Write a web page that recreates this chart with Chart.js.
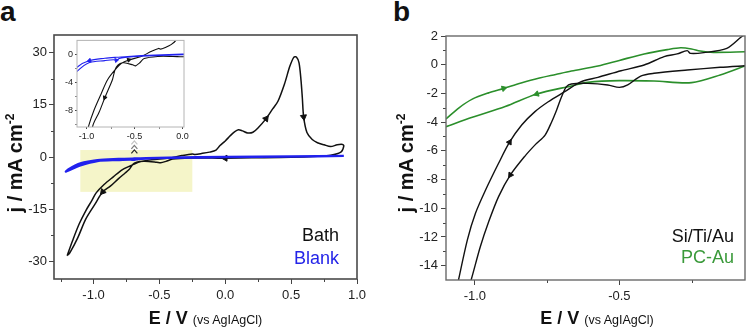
<!DOCTYPE html>
<html>
<head>
<meta charset="utf-8">
<title>Cyclic voltammetry</title>
<script src="https://cdn.jsdelivr.net/npm/chart.js"></script>
<style>
  body { margin: 0; width: 750px; height: 330px; position: relative; background: #fff; overflow: hidden;
         font-family: "Liberation Sans", Arial, sans-serif; color: #111; }
  canvas { position: absolute; }
  .panel { position: absolute; font-weight: bold; font-size: 28px; line-height: 28px; }
  .ytitle { position: absolute; width: 200px; height: 24px; line-height: 24px; text-align: center;
            transform: rotate(-90deg); font-weight: bold; font-size: 20px; white-space: nowrap; }
  .ytitle sup { font-size: 12px; line-height: 0; vertical-align: 8px; }
  .xtitle { position: absolute; top: 308px; height: 20px; line-height: 20px; text-align: center;
            font-weight: bold; font-size: 18px; white-space: nowrap; }
  .xtitle span { font-weight: normal; font-size: 12.5px; }
  .leg { position: absolute; font-size: 18px; line-height: 20px; text-align: right; white-space: nowrap; }
</style>
</head>
<body>
<div class="panel" style="left:0px; top:-2px;">a</div>
<div class="panel" style="left:393px; top:-2px;">b</div>

<canvas id="chartA" width="375" height="330" style="left:0; top:0;"></canvas>
<canvas id="chartInset" width="137" height="112" style="left:55px; top:33px;"></canvas>
<canvas id="chartB" width="375" height="330" style="left:375px; top:0;"></canvas>

<div class="ytitle" style="left:-85px; top:151px;">j / mA cm<sup>-2</sup></div>
<div class="ytitle" style="left:306px; top:151px;">j / mA cm<sup>-2</sup></div>
<div class="xtitle" style="left:54px; width:303px;">E / V <span>(vs AgIAgCl)</span></div>
<div class="xtitle" style="left:446px; width:302px;">E / V <span>(vs AgIAgCl)</span></div>

<div class="leg" style="right:411px; top:225px; color:#111;">Bath</div>
<div class="leg" style="right:411px; top:248px; color:#2424e8;">Blank</div>
<div class="leg" style="right:16px; top:226px; color:#111;">Si/Ti/Au</div>
<div class="leg" style="right:16px; top:247px; color:#3a9a3a;">PC-Au</div>

<script>
// ---- panel a: Bath (black), scan order starting at the cathodic vertex
const bathE = [-1.20, -1.16, -1.11, -1.06, -1.01, -0.98, -0.92, -0.85, -0.78, -0.69, -0.64, -0.56, -0.43, -0.33,
  -0.25, -0.23, -0.18, -0.12, -0.07, -0.04, 0.00, 0.035, 0.07, 0.10, 0.13, 0.17, 0.21, 0.25, 0.31, 0.36, 0.40,
  0.45, 0.49, 0.52, 0.54, 0.56, 0.575, 0.585, 0.595, 0.62, 0.66, 0.70, 0.75, 0.80, 0.85, 0.89, 0.90, 0.88, 0.80,
  0.70, 0.50, 0.20, 0.00, -0.10, -0.26, -0.40, -0.45, -0.49, -0.52, -0.61, -0.65, -0.69, -0.71, -0.73, -0.76,
  -0.81, -0.87, -0.93, -0.99, -1.06, -1.12, -1.18, -1.20];
const bathJ = [-28.3, -24.1, -19.3, -15.5, -12.3, -10.3, -7.9, -5.7, -3.6, -2.0, -1.3, -0.8, -0.3, 0.4,
  0.85, 0.75, 1.0, 1.4, 2.0, 3.3, 4.6, 6.0, 7.2, 7.8, 7.5, 6.9, 7.1, 8.4, 11.0, 13.8, 16.0,
  21.0, 26.0, 28.6, 28.7, 27.0, 22.0, 17.0, 11.5, 7.0, 5.0, 4.1, 3.5, 3.0, 3.5, 3.6, 3.2, 1.5, 0.5,
  0.2, -0.1, -0.25, -0.35, -0.3, -0.3, -0.6, -1.25, -1.65, -1.5, -1.2, -1.3, -1.8, -2.5, -3.6, -4.6,
  -6.2, -8.3, -10.0, -13.6, -17.9, -23.2, -27.5, -28.3];

// ---- panel a: Blank (blue)
const blankE = [0.90, 0.50, 0.00, -0.43, -0.60, -0.69, -0.81, -0.97, -1.10, -1.19, -1.21, -1.10, -0.97, -0.81,
  -0.72, -0.69, -0.66, -0.60, -0.43, 0.00, 0.50, 0.90];
const blankJ = [0.35, 0.20, 0.05, -0.18, -0.35, -0.42, -0.56, -0.89, -1.84, -3.5, -4.2, -2.44, -1.17, -0.89,
  -0.78, -0.85, -0.6, -0.45, -0.28, -0.05, 0.12, 0.30];

// arrow markers: indices into the arrays above
const bathArrowsMain = [28, 38, 52, 67];
const bathArrowsInset = [11, 65];
const blankArrowsInset = [7, 15];

// highlighted zoom window and the chevrons above it (panel a)
const zoomBoxE = [-1.1, -0.25];
const zoomBoxJ = [-10, 2];
const chevronE = -0.69;
const chevronJ = [4.2, 2.9, 1.6];

// ---- panel b: Si/Ti/Au (black) and PC-Au (green), forward and reverse scans
const siFwdE = [-1.06, -1.026, -0.998, -0.963, -0.918, -0.88, -0.838, -0.792, -0.746, -0.689, -0.632, -0.574,
  -0.494, -0.414, -0.345, -0.30, -0.265, -0.254, -0.208, -0.128, -0.077, -0.06];
const siFwdJ = [-15.3, -12.2, -10.35, -8.73, -6.87, -5.4, -4.2, -3.27, -2.58, -1.88, -1.18, -0.88,
  -0.42, -0.02, 0.56, 0.75, 0.98, 0.79, 0.84, 1.14, 1.95, 2.2];
const siRevE = [-0.06, -0.151, -0.265, -0.38, -0.426, -0.471, -0.50, -0.54, -0.609, -0.666, -0.683, -0.70,
  -0.717, -0.734, -0.757, -0.79, -0.826, -0.877, -0.918, -0.952, -0.981, -1.013, -1.02];
const siRevJ = [-0.07, -0.18, -0.37, -0.6, -0.79, -1.41, -1.58, -1.41, -1.3, -1.34, -1.53, -2.23,
  -3.15, -3.97, -4.9, -5.55, -6.35, -7.68, -9.19, -10.93, -12.67, -15.0, -15.4];
const pcFwdE = [-1.10, -1.055, -1.009, -0.955, -0.90, -0.84, -0.78, -0.72, -0.666, -0.574, -0.50, -0.414,
  -0.334, -0.288, -0.25, -0.22, -0.174, -0.06];
const pcFwdJ = [-3.78, -3.0, -2.4, -1.98, -1.65, -1.28, -0.95, -0.68, -0.44, -0.09, 0.3, 0.75,
  1.05, 1.18, 1.1, 0.95, 0.86, 0.9];
const pcRevE = [-0.06, -0.151, -0.25, -0.38, -0.50, -0.609, -0.666, -0.786, -0.895, -1.009, -1.10];
const pcRevJ = [-0.05, -0.72, -1.25, -1.14, -1.11, -1.23, -1.48, -2.04, -2.92, -3.66, -4.32];

// axis ranges and ticks
const xRangeA = [-1.3, 1.0], yRangeA = [-35, 35];
const xTicksA = [-1.0, -0.5, 0.0, 0.5, 1.0], yTicksA = [-30, -15, 0, 15, 30];
const xMinorA = [-1.25, -0.75, -0.25, 0.25, 0.75], yMinorA = [-22.5, -7.5, 7.5, 22.5];
const xRangeIn = [-1.1, 0.015], yRangeIn = [-10.4, 2];
const xTicksIn = [-1.0, -0.5, 0.0], yTicksIn = [-8, -4, 0];
const xMinorIn = [-0.75, -0.25], yMinorIn = [-10, -6, -2];
const xRangeB = [-1.1, -0.065], yRangeB = [-15, 2];
const xTicksB = [-1.0, -0.5], yTicksB = [-14, -12, -10, -8, -6, -4, -2, 0, 2];
const xMinorB = [-0.75, -0.25], yMinorB = [1, -1, -3, -5, -7, -9, -11, -13];

Chart.defaults.font.family = '"Liberation Sans", Arial, sans-serif';
Chart.defaults.color = '#222';

const BLACK = '#111', BLUE = '#2121ee', GREEN = '#2b8f2b';

const pts = (xs, ys) => xs.map((x, i) => ({ x: x, y: ys[i] }));

function curve(xs, ys, color, width) {
  return { data: pts(xs, ys), showLine: true, borderColor: color, borderWidth: width,
           pointRadius: 0, tension: 0.3, fill: false };
}

// arrow heads sit on curve points; they point along the scan direction
function arrows(xs, ys, idx, color, r) {
  return {
    data: idx.map(i => ({ x: xs[i], y: ys[i] })),
    showLine: false, pointStyle: 'triangle', pointRadius: r,
    backgroundColor: color, borderColor: color, borderWidth: 1,
    rotation: ctx => {
      if (ctx.type !== 'data') return 0;
      const i = idx[ctx.dataIndex];
      const sx = ctx.chart.scales.x, sy = ctx.chart.scales.y;
      const dx = sx.getPixelForValue(xs[i + 1]) - sx.getPixelForValue(xs[i - 1]);
      const dy = sy.getPixelForValue(ys[i + 1]) - sy.getPixelForValue(ys[i - 1]);
      return Math.atan2(dy, dx) * 180 / Math.PI + 90;
    }
  };
}

function axis(range, ticks, fmt, size, font, tickLen, pad) {
  return {
    type: 'linear', min: range[0], max: range[1],
    afterBuildTicks: s => { s.ticks = ticks.map(v => ({ value: v })); },
    afterFit: s => { if (s.isHorizontal()) s.height = size; else s.width = size; },
    ticks: { callback: fmt, font: { size: font }, color: '#222', padding: pad, maxRotation: 0, autoSkip: false },
    grid: { display: true, drawOnChartArea: false, drawTicks: true, tickLength: tickLen, tickColor: '#444', tickWidth: 1 },
    border: { display: false }
  };
}

// frame, white inset background, highlight box, chevrons and minor ticks
const decor = {
  id: 'decor',
  beforeDraw(chart, args, o) {
    if (!o.fill) return;
    const a = chart.chartArea, ctx = chart.ctx;
    ctx.save();
    ctx.fillStyle = o.fill;
    ctx.fillRect(a.left, a.top, a.right - a.left, a.bottom - a.top);
    ctx.restore();
  },
  beforeDatasetsDraw(chart, args, o) {
    if (!o.box) return;
    const ctx = chart.ctx, x = chart.scales.x, y = chart.scales.y;
    const x0 = x.getPixelForValue(o.box.e[0]), x1 = x.getPixelForValue(o.box.e[1]);
    const y0 = y.getPixelForValue(o.box.j[1]), y1 = y.getPixelForValue(o.box.j[0]);
    ctx.save();
    ctx.fillStyle = o.box.color;
    ctx.fillRect(x0, y0, x1 - x0, y1 - y0);
    ctx.restore();
  },
  afterDatasetsDraw(chart, args, o) {
    const ctx = chart.ctx, a = chart.chartArea, x = chart.scales.x, y = chart.scales.y;
    ctx.save();
    if (o.chev) {
      const px = x.getPixelForValue(o.chev.e);
      o.chev.j.forEach((v, k) => {
        const py = y.getPixelForValue(v);
        ctx.strokeStyle = o.chev.colors[k];
        ctx.lineWidth = 1.2;
        ctx.beginPath();
        ctx.moveTo(px - 3, py + 2);
        ctx.lineTo(px, py - 1.5);
        ctx.lineTo(px + 3, py + 2);
        ctx.stroke();
      });
    }
    ctx.strokeStyle = o.tickColor;
    ctx.lineWidth = 1;
    (o.minorX || []).forEach(v => {
      const px = Math.round(x.getPixelForValue(v)) + 0.5;
      ctx.beginPath(); ctx.moveTo(px, a.bottom); ctx.lineTo(px, a.bottom + o.minorLen); ctx.stroke();
    });
    (o.minorY || []).forEach(v => {
      const py = Math.round(y.getPixelForValue(v)) + 0.5;
      ctx.beginPath(); ctx.moveTo(a.left, py); ctx.lineTo(a.left - o.minorLen, py); ctx.stroke();
    });
    ctx.strokeStyle = o.frameColor;
    ctx.lineWidth = o.frameWidth;
    ctx.strokeRect(a.left, a.top, a.right - a.left, a.bottom - a.top);
    ctx.restore();
  }
};

const fix1 = v => v.toFixed(1);
const fix0 = v => String(v);

function baseOptions(xAxis, yAxis, padding, decorOpts) {
  return {
    responsive: false, devicePixelRatio: 1, animation: false, events: [],
    layout: { padding: padding },
    scales: { x: xAxis, y: yAxis },
    plugins: { legend: { display: false }, tooltip: { enabled: false }, decor: decorOpts }
  };
}

// panel a
new Chart(document.getElementById('chartA'), {
  type: 'scatter',
  data: { datasets: [
    curve(blankE, blankJ, BLUE, 2.2),
    curve(bathE, bathJ, BLACK, 1.5),
    arrows(bathE, bathJ, bathArrowsMain, BLACK, 3.5)
  ] },
  options: baseOptions(
    axis(xRangeA, xTicksA, fix1, 51, 13, 5, 4),
    axis(yRangeA, yTicksA, fix0, 54, 13, 5, 2),
    { left: 0, right: 18, top: 35, bottom: 0 },
    { frameColor: '#4a4a4a', frameWidth: 1.6, tickColor: '#444', minorLen: 3,
      minorX: xMinorA, minorY: yMinorA,
      box: { e: zoomBoxE, j: zoomBoxJ, color: '#f5f5c9' },
      chev: { e: chevronE, j: chevronJ, colors: ['#c4c4c4', '#7a7a7a', '#2a2a2a'] } }
  ),
  plugins: [decor]
});

// inset of panel a
new Chart(document.getElementById('chartInset'), {
  type: 'scatter',
  data: { datasets: [
    curve(blankE, blankJ, BLUE, 1.1),
    curve(bathE, bathJ, BLACK, 1.1),
    arrows(blankE, blankJ, blankArrowsInset, BLUE, 2.3),
    arrows(bathE, bathJ, bathArrowsInset, BLACK, 2.3)
  ] },
  options: baseOptions(
    axis(xRangeIn, xTicksIn, fix1, 18, 9, 2, 2),
    axis(yRangeIn, yTicksIn, fix0, 22, 9, 2, 2),
    { left: 0, right: 8, top: 6, bottom: 0 },
    { fill: '#fff', frameColor: '#b4b4b4', frameWidth: 1, tickColor: '#888', minorLen: 2,
      minorX: xMinorIn, minorY: yMinorIn }
  ),
  plugins: [decor]
});

// panel b
new Chart(document.getElementById('chartB'), {
  type: 'scatter',
  data: { datasets: [
    curve(siFwdE, siFwdJ, BLACK, 1.4),
    curve(siRevE, siRevJ, BLACK, 1.4),
    curve(pcFwdE, pcFwdJ, GREEN, 1.6),
    curve(pcRevE, pcRevJ, GREEN, 1.6),
    arrows(siFwdE, siFwdJ, [5], BLACK, 3.2),
    arrows(siRevE, siRevJ, [17], BLACK, 3.2),
    arrows(pcFwdE, pcFwdJ, [4], GREEN, 3.2),
    arrows(pcRevE, pcRevJ, [7], GREEN, 3.2)
  ] },
  options: baseOptions(
    axis(xRangeB, xTicksB, fix1, 50, 13, 5, 4),
    axis(yRangeB, yTicksB, fix0, 71, 13, 5, 3),
    { left: 0, right: 2, top: 36, bottom: 0 },
    { frameColor: '#6a6a6a', frameWidth: 1.4, tickColor: '#444', minorLen: 3,
      minorX: xMinorB, minorY: yMinorB }
  ),
  plugins: [decor]
});
</script>
</body>
</html>
